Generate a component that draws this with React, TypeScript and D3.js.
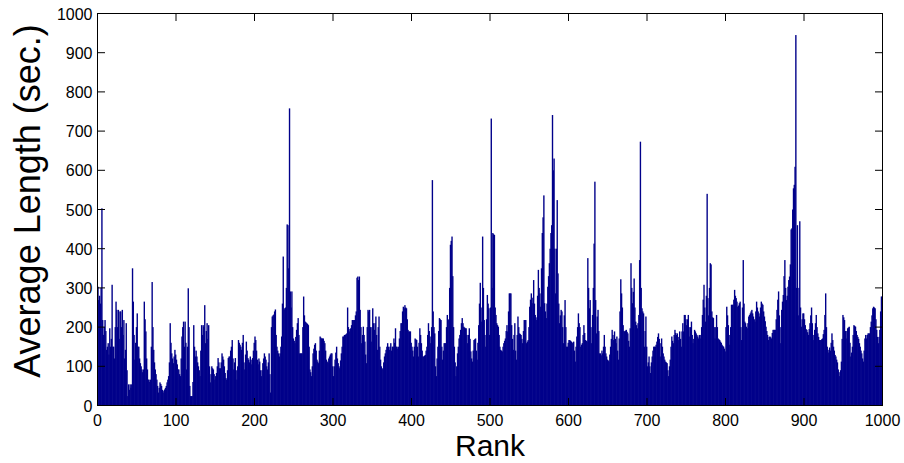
import React from "react";
import * as d3 from "d3";

const lengths000 = [
  303,269,280,260,300,503,218,180,200,218,
  190,142,150,159,130,197,150,170,308,150,
  150,120,200,265,244,200,244,170,240,240,
  200,244,180,218,120,142,210,90,24,54,
  40,54,45,54,350,265,180,117,160,200,
  235,150,150,120,108,100,92,85,92,265,
  220,189,120,92,66,66,60,66,150,315,
  200,142,110,92,80,66,50,33,45,59,
  55,50,40,33,38,41,45,50,59,66,
  75,110,210,160,133,120,108,125,142,130,
];
const lengths100 = [
  117,105,92,92,80,75,120,176,200,214,
  150,214,160,92,150,299,200,50,24,24,
  24,60,205,150,125,140,125,110,100,90,
  75,140,205,180,205,200,256,159,190,210,
  170,205,100,59,80,100,95,92,80,66,
  75,83,100,121,110,95,95,110,133,125,
  117,100,83,70,66,90,121,125,125,140,
  150,167,120,92,110,121,90,66,100,167,
  160,155,150,142,160,180,110,92,130,163,
  140,121,117,110,125,117,105,121,140,160,
];
const lengths200 = [
  176,167,140,117,105,120,112,90,75,90,
  108,120,133,125,117,100,92,110,133,80,
  33,200,227,230,232,240,245,180,150,140,
  133,125,133,150,176,260,380,244,248,250,
  300,462,460,350,758,291,250,291,200,171,
  165,159,175,193,210,223,180,133,133,133,
  133,200,278,230,214,212,210,208,205,150,
  92,85,75,100,133,145,155,159,140,117,
  112,108,140,176,173,171,171,171,165,159,
  140,117,112,108,120,125,130,133,133,100,
];
const lengths300 = [
  75,100,117,135,150,120,108,100,95,115,
  133,150,176,176,180,180,182,184,250,200,
  189,195,197,205,218,218,218,218,230,240,
  326,329,320,329,244,200,159,180,201,180,
  163,130,108,200,244,240,244,200,163,200,
  248,210,193,210,227,180,142,200,227,150,
  117,100,95,92,110,125,133,142,150,159,
  150,142,150,159,140,150,150,171,160,197,
  150,150,145,150,171,190,210,210,240,252,
  248,256,250,248,220,193,189,189,189,160,
];
const lengths400 = [
  150,140,125,150,171,169,167,150,125,160,
  197,180,159,140,125,125,127,129,140,150,
  180,210,190,176,159,200,575,240,200,184,
  100,75,120,150,190,223,220,218,150,117,
  140,159,159,159,200,231,220,218,300,410,
  420,431,330,200,150,110,75,100,133,150,
  171,180,193,210,223,210,201,199,197,197,
  180,159,180,197,170,138,120,112,140,167,
  169,171,140,117,160,205,260,313,250,214,
  431,300,218,180,150,220,282,260,248,180,
];
const lengths500 = [
  250,732,300,440,437,435,250,231,210,205,
  201,180,150,142,140,138,150,159,165,171,
  190,205,189,240,286,286,286,205,170,142,
  180,210,140,117,180,227,200,184,182,180,
  170,159,190,218,218,218,159,163,167,200,
  252,270,286,275,261,320,260,231,225,218,
  280,346,300,286,252,350,440,480,536,261,
  240,223,260,303,330,363,400,440,460,741,
  600,630,400,286,400,524,337,260,210,230,
  244,240,200,159,230,269,200,150,150,160,
];
const lengths600 = [
  167,167,165,163,159,161,163,140,112,150,
  176,200,235,210,200,150,155,159,180,205,
  185,167,165,163,376,300,248,269,200,159,
  231,300,413,571,269,184,227,244,190,133,
  133,128,140,133,150,180,150,133,125,117,
  115,112,130,150,170,193,180,167,189,170,
  159,176,140,117,171,240,322,286,250,205,
  190,189,191,193,188,184,165,150,197,363,
  300,261,290,324,250,214,205,197,210,231,
  371,673,300,248,240,235,150,190,227,150,
];
const lengths700 = [
  100,110,125,100,83,110,125,140,150,150,
  150,155,163,175,184,170,159,125,171,150,
  133,125,117,112,110,108,90,75,100,117,
  150,176,165,159,180,193,185,180,184,167,
  175,189,170,150,189,210,189,231,231,220,
  205,220,231,200,176,200,214,180,159,170,
  193,189,184,180,176,171,180,171,180,200,
  231,270,308,250,214,280,540,274,230,300,
  363,360,240,225,223,200,171,200,231,200,
  171,169,167,163,160,155,152,150,145,138,
];
const lengths800 = [
  200,252,230,205,180,155,200,257,257,257,
  270,295,280,274,265,252,255,261,265,200,
  167,250,371,260,214,210,201,197,210,227,
  231,235,240,244,235,227,220,214,240,265,
  250,240,235,227,250,265,260,257,240,227,
  215,201,190,180,167,175,176,174,171,185,
  193,193,193,193,220,244,270,291,230,159,
  200,244,265,282,330,371,300,269,280,303,
  320,329,360,449,452,500,554,563,609,945,
  300,460,230,300,470,250,201,220,235,235,
];
const lengths900 = [
  220,205,195,193,187,180,195,210,230,250,
  210,167,180,193,210,231,200,184,175,167,
  167,167,169,171,182,193,231,286,200,150,
  142,135,148,140,160,184,167,150,140,129,
  125,117,110,92,85,75,90,112,170,231,
  225,218,190,171,190,197,199,201,160,125,
  135,150,180,205,203,201,190,180,175,170,
  159,150,140,133,120,112,140,171,180,171,
  180,184,184,184,200,214,230,248,252,250,
  248,220,193,175,159,175,193,240,278,278,
];

const xTicks = [0, 100, 200, 300, 400, 500, 600, 700, 800, 900, 1000];
const yTicks = [0, 100, 200, 300, 400, 500, 600, 700, 800, 900, 1000];

const values = [
  ...lengths000, ...lengths100, ...lengths200, ...lengths300, ...lengths400,
  ...lengths500, ...lengths600, ...lengths700, ...lengths800, ...lengths900,
];

const W = 904;
const H = 463;
const left = 97.5;
const right = 882.5;
const top = 13.5;
const bottom = 405.5;
const barColor = "#00008a";
const font = "Arial, 'Liberation Sans', Helvetica, sans-serif";

export default function App() {
  const x = d3.scaleLinear().domain([0, 1000]).range([left, right]);
  const y = d3.scaleLinear().domain([0, 1000]).range([bottom, top]);
  const tickLen = 7.5;
  const step = x(1) - x(0);

  return (
    <svg
      width={W}
      height={H}
      style={{ position: "absolute", left: 0, top: 0, background: "#fff" }}
      fontFamily={font}
    >
      <rect x={0} y={0} width={W} height={H} fill="#fff" />
      <g>
        {values.map((v, i) => (
          <rect
            key={i}
            x={x(i) - 0.2}
            y={y(v)}
            width={step + 0.6}
            height={y(0) - y(v)}
            fill={barColor}
          />
        ))}
      </g>
      <g stroke="#000" strokeWidth={1} fill="none">
        <rect x={left} y={top} width={right - left} height={bottom - top} />
        {xTicks.map((t) => (
          <g key={"xt" + t}>
            <line x1={x(t)} x2={x(t)} y1={bottom} y2={bottom - tickLen} />
            <line x1={x(t)} x2={x(t)} y1={top} y2={top + tickLen} />
          </g>
        ))}
        {yTicks.map((t) => (
          <g key={"yt" + t}>
            <line x1={left} x2={left + tickLen} y1={y(t)} y2={y(t)} />
            <line x1={right} x2={right - tickLen} y1={y(t)} y2={y(t)} />
          </g>
        ))}
      </g>
      <g fontSize={16} fill="#000">
        {xTicks.map((t) => (
          <text key={"xl" + t} x={x(t)} y={425.5} textAnchor="middle">
            {t}
          </text>
        ))}
        {yTicks.map((t) => (
          <text key={"yl" + t} x={92.5} y={y(t) + 6} textAnchor="end">
            {t}
          </text>
        ))}
      </g>
      <text x={490} y={456.3} textAnchor="middle" fontSize={30} fill="#000">
        Rank
      </text>
      <text
        transform={`translate(40,201) rotate(-90)`}
        textAnchor="middle"
        fontSize={36}
        fill="#000"
      >
        Average Length (sec.)
      </text>
    </svg>
  );
}
